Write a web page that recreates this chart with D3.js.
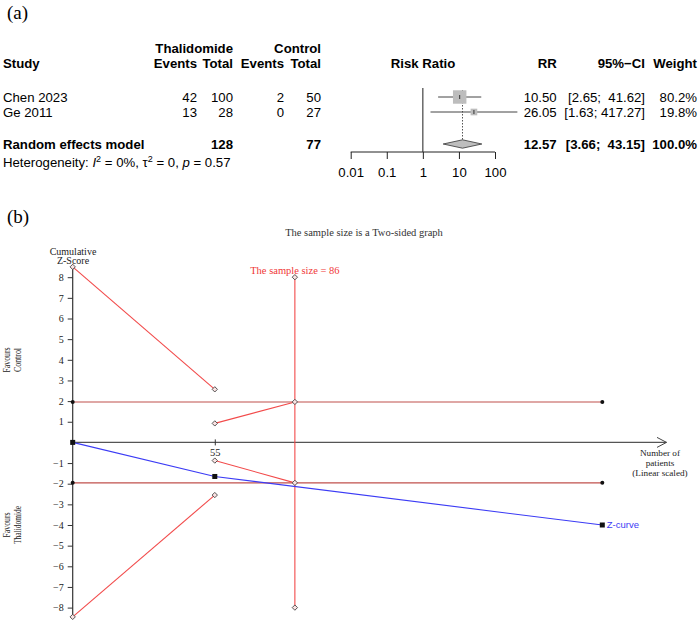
<!DOCTYPE html>
<html>
<head>
<meta charset="utf-8">
<script src="https://cdn.jsdelivr.net/npm/d3@7"></script>
<style>
  body { margin: 0; background: #fff; }
  svg text { white-space: pre; }
</style>
</head>
<body>
<svg id="chart" width="700" height="623"></svg>
<script>
// ---- (a) forest plot data ----
var studies = ['Chen 2023', 'Ge 2011'];
var thalEvents = [42, 13];
var thalTotal = [100, 28];
var ctrlEvents = [2, 0];
var ctrlTotal = [50, 27];
var rr = [10.50, 26.05];
var rrLow = [2.65, 1.63];
var rrHigh = [41.62, 417.27];
var weights = [80.2, 19.8];
var ciLabels = ['[2.65;  41.62]', '[1.63; 417.27]'];
var pooled = [12.57, 3.66, 43.15];
var pooledTotals = [128, 77];
var rrTicks = [0.01, 0.1, 1, 10, 100];

// ---- (b) trial sequential analysis data ----
var zTicks = [-8, -7, -6, -5, -4, -3, -2, -1, 1, 2, 3, 4, 5, 6, 7, 8];
var zCurveN = [0, 55, 205];
var zCurveZ = [0, -1.65, -4.0];
var upperEffN = [0, 55];
var upperEffZ = [8.5, 2.57];
var lowerEffN = [0, 55];
var lowerEffZ = [-8.45, -2.55];
var upperFutN = [55, 86];
var upperFutZ = [0.92, 1.96];
var lowerFutN = [55, 86];
var lowerFutZ = [-0.88, -1.96];
var sampleSizeN = 86;
var sampleSizeZ = [8, -8];
var conventionalZ = [1.96, -1.96];
var totalN = 205;

var svg = d3.select('#chart');
var sans = 'Liberation Sans, Arial, Helvetica, sans-serif';
var serif = 'Liberation Serif, Times New Roman, serif';

// ================= (a) =================
var a = svg.append('g').attr('font-family', sans).attr('font-size', 13.2).attr('fill', '#000');

svg.append('text').attr('x', 7).attr('y', 19).attr('font-family', serif)
  .attr('font-size', 19).text('(a)');

var rowY = [101.5, 116.5];
var pooledY = 148.5;

function txt(g, x, y, s, anchor, bold) {
  return g.append('text').attr('x', x).attr('y', y)
    .attr('text-anchor', anchor || 'start')
    .attr('font-weight', bold ? 'bold' : 'normal')
    .text(s);
}

// headers
txt(a, 233, 52.5, 'Thalidomide', 'end', true);
txt(a, 321, 52.5, 'Control', 'end', true);
txt(a, 3, 67.5, 'Study', 'start', true);
txt(a, 197, 67.5, 'Events', 'end', true);
txt(a, 233, 67.5, 'Total', 'end', true);
txt(a, 284, 67.5, 'Events', 'end', true);
txt(a, 321, 67.5, 'Total', 'end', true);
txt(a, 423, 67.5, 'Risk Ratio', 'middle', true);
txt(a, 556.7, 67.5, 'RR', 'end', true);
txt(a, 645, 67.5, '95%\u2212CI', 'end', true);
txt(a, 697, 67.5, 'Weight', 'end', true);

studies.forEach(function(s, i) {
  txt(a, 3, rowY[i], s);
  txt(a, 197, rowY[i], String(thalEvents[i]), 'end');
  txt(a, 233, rowY[i], String(thalTotal[i]), 'end');
  txt(a, 284, rowY[i], String(ctrlEvents[i]), 'end');
  txt(a, 321, rowY[i], String(ctrlTotal[i]), 'end');
  txt(a, 556.7, rowY[i], rr[i].toFixed(2), 'end');
  txt(a, 645, rowY[i], ciLabels[i], 'end');
  txt(a, 697, rowY[i], weights[i].toFixed(1) + '%', 'end');
});

txt(a, 3, pooledY, 'Random effects model', 'start', true);
txt(a, 233, pooledY, String(pooledTotals[0]), 'end', true);
txt(a, 321, pooledY, String(pooledTotals[1]), 'end', true);
txt(a, 556.7, pooledY, pooled[0].toFixed(2), 'end', true);
txt(a, 645, pooledY, '[' + pooled[1].toFixed(2) + ';  ' + pooled[2].toFixed(2) + ']', 'end', true);
txt(a, 697, pooledY, '100.0%', 'end', true);

var het = a.append('text').attr('x', 3).attr('y', 166.5);
het.append('tspan').text('Heterogeneity: ');
het.append('tspan').attr('font-style', 'italic').text('I');
het.append('tspan').attr('font-size', 9).attr('dy', -5).text('2');
het.append('tspan').attr('dy', 5).text(' = 0%, \u03c4');
het.append('tspan').attr('font-size', 9).attr('dy', -5).text('2');
het.append('tspan').attr('dy', 5).text(' = 0, ');
het.append('tspan').attr('font-style', 'italic').text('p');
het.append('tspan').text(' = 0.57');

// forest scale
var xr = d3.scaleLog().domain([0.01, 100]).range([350.7, 495]);
var axisY = 152;

var rrAxis = d3.axisBottom(xr).tickValues(rrTicks).tickSize(7).tickPadding(9)
  .tickFormat(function(d) { return String(d); });
var axG = a.append('g').attr('transform', 'translate(0,' + axisY + ')').call(rrAxis);
axG.select('.domain').attr('stroke', '#222').attr('d', 'M' + xr(0.01) + ',0H' + xr(100));
axG.selectAll('.tick line').attr('stroke', '#222');
axG.selectAll('.tick text').attr('font-family', sans).attr('font-size', 13.2).attr('fill', '#000');

// null line
a.append('line').attr('x1', xr(1)).attr('x2', xr(1)).attr('y1', 88).attr('y2', axisY)
  .attr('stroke', '#333').attr('stroke-width', 1.1);

// pooled dotted line
a.append('line').attr('x1', xr(pooled[0])).attr('x2', xr(pooled[0]))
  .attr('y1', 90).attr('y2', pooledY - 9)
  .attr('stroke', '#555').attr('stroke-dasharray', '1.5,1.5');

var rowC = rowY.map(function(y) { return y - 4.5; });
studies.forEach(function(s, i) {
  a.append('line').attr('x1', xr(rrLow[i])).attr('x2', xr(rrHigh[i]))
    .attr('y1', rowC[i]).attr('y2', rowC[i]).attr('stroke', '#444');
  var side = 1.5 * Math.sqrt(weights[i]);
  a.append('rect').attr('x', xr(rr[i]) - side / 2).attr('y', rowC[i] - side / 2)
    .attr('width', side).attr('height', side).attr('fill', '#bdbdbd');
  a.append('line').attr('x1', xr(rr[i])).attr('x2', xr(rr[i]))
    .attr('y1', rowC[i] - 2).attr('y2', rowC[i] + 2).attr('stroke', '#333');
});

var pc = pooledY - 4.5;
a.append('path')
  .attr('d', 'M' + xr(pooled[1]) + ',' + pc + 'L' + xr(pooled[0]) + ',' + (pc - 4.2) +
    'L' + xr(pooled[2]) + ',' + pc + 'L' + xr(pooled[0]) + ',' + (pc + 4.2) + 'Z')
  .attr('fill', '#bdbdbd').attr('stroke', '#333').attr('stroke-width', 0.8);

// ================= (b) =================
var b = svg.append('g').attr('font-family', serif).attr('fill', '#222');

svg.append('text').attr('x', 7).attr('y', 223).attr('font-family', serif)
  .attr('font-size', 19).text('(b)');

var x = d3.scaleLinear().domain([0, totalN]).range([72.7, 602.3]);
var y = d3.scaleLinear().domain([0, 8]).range([442.4, 277.2]);

b.append('text').attr('x', 364).attr('y', 236).attr('text-anchor', 'middle')
  .attr('font-size', 10.5).attr('fill', '#333').text('The sample size is a Two-sided graph');

b.append('text').attr('x', 73).attr('y', 254.5).attr('text-anchor', 'middle')
  .attr('font-size', 10).text('Cumulative');
b.append('text').attr('x', 73).attr('y', 264).attr('text-anchor', 'middle')
  .attr('font-size', 10).text('Z-Score');

function vlabel(cx, cy, s, len) {
  b.append('text').attr('transform', 'translate(' + cx + ',' + cy + ') rotate(-90)')
    .attr('text-anchor', 'middle').attr('font-size', 10)
    .attr('textLength', len).attr('lengthAdjust', 'spacingAndGlyphs').text(s);
}
vlabel(10, 360, 'Favours', 25);
vlabel(21, 360, 'Control', 24);
vlabel(10, 525, 'Favours', 25);
vlabel(21, 525, 'Thalidomide', 38);

// y axis
var yAxis = d3.axisLeft(y).tickValues(zTicks).tickSize(5).tickPadding(4)
  .tickFormat(function(d) { return d < 0 ? '\u2212' + Math.abs(d) : String(d); });
var yg = b.append('g').attr('transform', 'translate(' + x(0) + ',0)').call(yAxis);
yg.select('.domain').attr('stroke', '#333').attr('stroke-width', 1.2)
  .attr('d', 'M0,' + y(8.5) + 'V' + y(-8.5));
yg.selectAll('.tick line').attr('stroke', '#333');
yg.selectAll('.tick text').attr('font-family', serif).attr('font-size', 10).attr('fill', '#222');

// x axis
var xAxis = d3.axisBottom(x).tickValues([55]).tickSize(3).tickPadding(3);
var xg = b.append('g').attr('transform', 'translate(0,' + y(0) + ')').call(xAxis);
xg.select('.domain').attr('stroke', '#555').attr('stroke-width', 1.2)
  .attr('d', 'M' + x(0) + ',0H666.5');
xg.selectAll('.tick line').attr('stroke', '#333').attr('y1', -3);
xg.selectAll('.tick text').attr('font-family', serif).attr('font-size', 10.5).attr('fill', '#222');
b.append('path').attr('d', 'M657,' + (y(0) - 5) + 'L666.5,' + y(0) + 'L657,' + (y(0) + 5))
  .attr('fill', 'none').attr('stroke', '#444').attr('stroke-width', 1);

['Number of', 'patients', '(Linear scaled)'].forEach(function(s, i) {
  b.append('text').attr('x', 660).attr('y', 456 + i * 9.8).attr('text-anchor', 'middle')
    .attr('font-size', 9.2).text(s);
});

var line = d3.line().x(function(d) { return x(d[0]); }).y(function(d) { return y(d[1]); });
function zip(n, z) { return n.map(function(v, i) { return [v, z[i]]; }); }

var bright = '#f24a4a';
var dark = '#c0504d';

// conventional boundaries
conventionalZ.forEach(function(z) {
  b.append('path').datum([[0, z], [totalN, z]]).attr('d', line)
    .attr('stroke', dark).attr('stroke-width', 1.1).attr('fill', 'none');
  [0, totalN].forEach(function(n) {
    b.append('circle').attr('cx', x(n)).attr('cy', y(z)).attr('r', 2).attr('fill', '#111');
  });
});

var boundaries = [zip(upperEffN, upperEffZ), zip(lowerEffN, lowerEffZ),
  zip(upperFutN, upperFutZ), zip(lowerFutN, lowerFutZ),
  [[sampleSizeN, sampleSizeZ[0]], [sampleSizeN, sampleSizeZ[1]]]];

boundaries.forEach(function(pts) {
  b.append('path').datum(pts).attr('d', line)
    .attr('stroke', bright).attr('stroke-width', 1.1).attr('fill', 'none');
});

// Z-curve
b.append('path').datum(zip(zCurveN, zCurveZ)).attr('d', line)
  .attr('stroke', '#3b3bf5').attr('stroke-width', 1.1).attr('fill', 'none');
zip(zCurveN, zCurveZ).forEach(function(p) {
  b.append('rect').attr('x', x(p[0]) - 2.5).attr('y', y(p[1]) - 2.5)
    .attr('width', 5).attr('height', 5).attr('fill', '#111');
});

// diamond markers
var diamond = d3.symbol().type(d3.symbolDiamond2).size(18);
boundaries.forEach(function(pts) {
  pts.forEach(function(p) {
    b.append('path').attr('d', diamond)
      .attr('transform', 'translate(' + x(p[0]) + ',' + y(p[1]) + ')')
      .attr('fill', '#fbe3e3').attr('stroke', '#444').attr('stroke-width', 0.9);
  });
});

b.append('text').attr('x', x(sampleSizeN)).attr('y', 274).attr('text-anchor', 'middle')
  .attr('font-size', 10.5).attr('fill', '#f03838').text('The sample size = ' + sampleSizeN);

b.append('text').attr('x', x(totalN) + 4.5).attr('y', y(zCurveZ[2]) + 3.3)
  .attr('font-family', sans).attr('font-size', 9.5).attr('fill', '#3b3bf5').text('Z-curve');
</script>
</body>
</html>
